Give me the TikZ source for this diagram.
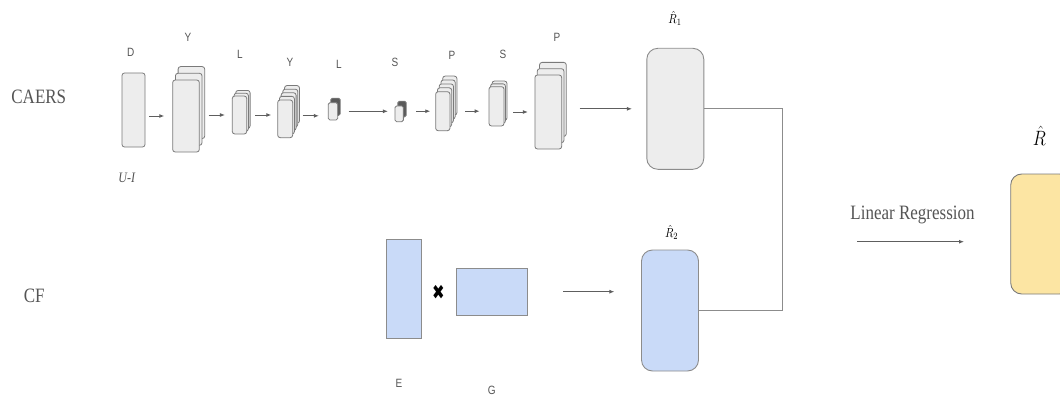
\documentclass[tikz,border=0pt]{standalone}
\usepackage{fontspec}
\setmainfont{Liberation Serif}
\newfontfamily\labelsans{Liberation Sans}
\newfontfamily\symfont{DejaVu Sans}
\usetikzlibrary{arrows.meta,calc}
\definecolor{blkfill}{HTML}{EDEDED}
\definecolor{blkdraw}{HTML}{7A7A7A}
\definecolor{darkside}{HTML}{5A5A5A}
\definecolor{bluefill}{HTML}{C9DAF8}
\definecolor{yelfill}{HTML}{FCE5A3}
\definecolor{txtgrey}{HTML}{555555}
\definecolor{arrgrey}{HTML}{5E5E5E}
\definecolor{lingrey}{HTML}{8C8C8C}
\newcommand{\tallt}[1]{\scalebox{1}[1.2]{#1}}
\tikzset{
  blk/.style={draw=blkdraw, fill=blkfill, line width=0.8pt, rounded corners=2.5pt, inner sep=0pt},
  darkblk/.style={draw=blkdraw, fill=darkside, line width=0.8pt, rounded corners=1.5pt, inner sep=0pt},
  bigblk/.style={draw=lingrey, line width=0.9pt, rounded corners=11pt, inner sep=0pt, minimum width=57pt, minimum height=121pt},
  mat/.style={draw=lingrey, fill=bluefill, line width=0.9pt, inner sep=0pt},
  arr/.style={draw=arrgrey, line width=0.9pt, -{Latex[length=5pt,width=4pt]}},
  conn/.style={draw=lingrey, line width=1pt},
  sl/.style={font=\labelsans\fontsize{10}{12}\selectfont, text=txtgrey, inner sep=0pt},
  rowlbl/.style={font=\fontsize{17}{20}\selectfont, text=txtgrey, inner sep=0pt},
}
% name, cx, cy, w, h, n, dx, dy
\newcommand{\stk}[8]{%
  \foreach \i in {#6,...,1}{%
    \node[blk, minimum width=#4pt, minimum height=#5pt] (#1-\i) at ({#2+\i*#7},{#3+\i*#8}) {};
  }
  \node[blk, minimum width=#4pt, minimum height=#5pt] (#1) at (#2,#3) {};
}
\begin{document}
\begin{tikzpicture}[x=1pt,y=-1pt]
\useasboundingbox (0,0) rectangle (1060,396);
\clip (0,0) rectangle (1060,396);

% row labels
\node[rowlbl] (caers) at (38.8,97.2) {\tallt{CAERS}};
\node[rowlbl] (cf) at (34.2,296.3) {\tallt{CF}};

% CAERS chain
\node[blk, minimum width=23pt, minimum height=74pt] (D) at (133.5,110) {};
\stk{Y1}{186}{116}{26.6}{72}{2}{2.7}{-6.7}
\stk{L1}{239.5}{115}{14.4}{38}{2}{1.7}{-2.8}
\stk{Y2}{285.2}{118.8}{15}{37.7}{4}{1.7}{-3.6}
\node[darkblk, minimum width=9.4pt, minimum height=17.3pt] (L2-1) at (335.5,106.8) {};
\node[blk, rounded corners=1.5pt, minimum width=9.4pt, minimum height=17.3pt] (L2) at (333,111.3) {};
\node[darkblk, minimum width=8.3pt, minimum height=15.7pt] (S1-1) at (402,109) {};
\node[blk, rounded corners=1.5pt, minimum width=8.3pt, minimum height=15.7pt] (S1) at (399.2,113.8) {};
\stk{P1}{442.8}{111.2}{14.3}{39}{4}{1.75}{-3.9}
\stk{S2}{496.5}{106.3}{15}{39.3}{2}{1.5}{-2.8}
\stk{P2}{548.3}{112}{26.7}{74}{2}{2.3}{-6.3}

% layer labels
\node[sl] (lD) at (130.7,52.7) {\tallt{D}};
\node[sl] (lY1) at (188,37) {\tallt{Y}};
\node[sl] (lL1) at (240,54) {\tallt{L}};
\node[sl] (lY2) at (290,62) {\tallt{Y}};
\node[sl] (lL2) at (339,64) {\tallt{L}};
\node[sl] (lS1) at (395,62) {\tallt{S}};
\node[sl] (lP1) at (452,55) {\tallt{P}};
\node[sl] (lS2) at (503,54) {\tallt{S}};
\node[sl] (lP2) at (557,37) {\tallt{P}};
\node[text=txtgrey, inner sep=0pt, font=\itshape\fontsize{12}{14}\selectfont] (ui) at (126.7,178.3) {\tallt{U-I}};

% CAERS arrows
\draw[arr, shorten <=4pt, shorten >=8pt] (D.east |- Y1.west) -- (Y1.west);
\draw[arr, shorten <=9pt, shorten >=7pt] (Y1.east |- L1.west) -- (L1.west);
\draw[arr, shorten <=8pt, shorten >=6pt] (L1.east) -- (L1.east -| Y2.west);
\draw[arr, shorten <=9.6pt, shorten >=9pt] ([yshift=3pt]Y2.east) -- ([yshift=3pt]Y2.east -| L2.west);
\draw[arr, shorten <=10.6pt, shorten >=6.7pt] (L2.east) -- (L2.east -| S1.west);
\draw[arr, shorten <=12.7pt, shorten >=5pt] (S1.east |- P1.west) -- (P1.west);
\draw[arr, shorten <=15pt, shorten >=9pt] (P1.east) -- (P1.east -| S2.west);
\draw[arr, shorten <=8.7pt, shorten >=6.7pt] (S2.east |- P2.west) -- (P2.west);

% R1
\node[bigblk, fill=blkfill] (R1) at (675.3,108.8) {};
\node[inner sep=0pt, font=\fontsize{11}{13}\selectfont] (lR1) at (675,18.3) {\tallt{$\hat{R}_1$}};
\draw[arr, shorten <=17.5pt, shorten >=14.4pt] (P2.east |- R1.west) -- (R1.west);

% CF part
\node[mat, minimum width=35pt, minimum height=99.3pt] (E) at (403.5,288.7) {};
\node[mat, minimum width=70.7pt, minimum height=46.7pt] (G) at (492,291.7) {};
\node[inner sep=0pt, font=\symfont\fontsize{15}{17}\selectfont] (times) at (438.3,292.7) {\scalebox{1}[1.35]{✖}};
\node[sl] (lE) at (399,383.3) {\tallt{E}};
\node[sl] (lG) at (491.7,390) {\tallt{G}};
\node[bigblk, fill=bluefill] (R2) at (670,310.5) {};
\node[inner sep=0pt, font=\fontsize{11}{13}\selectfont] (lR2) at (671.7,232.7) {\tallt{$\hat{R}_2$}};
\draw[arr, shorten <=35.4pt, shorten >=26.7pt] (G.east) -- (G.east -| R2.west);

% joining lines
\coordinate (J) at (782.7,0);
\draw[conn] (R1.east) -| (J |- R2.east) -- (R2.east);

% linear regression
\node[rowlbl] (LR) at (912.5,215) {\tallt{Linear Regression}};
\coordinate (LRa) at (857.3,241.7);
\coordinate (LRb) at (964,241.7);
\draw[arr] (LRa) -- (LRb);

% final
\node[draw=blkdraw, fill=yelfill, line width=0.9pt, rounded corners=11pt, inner sep=0pt, minimum width=60pt, minimum height=120pt] (R) at (1040.7,234) {};
\node[inner sep=0pt, font=\fontsize{17}{20}\selectfont] (lR) at (1039.3,136) {\tallt{$\hat{R}$}};
\end{tikzpicture}
\end{document}
